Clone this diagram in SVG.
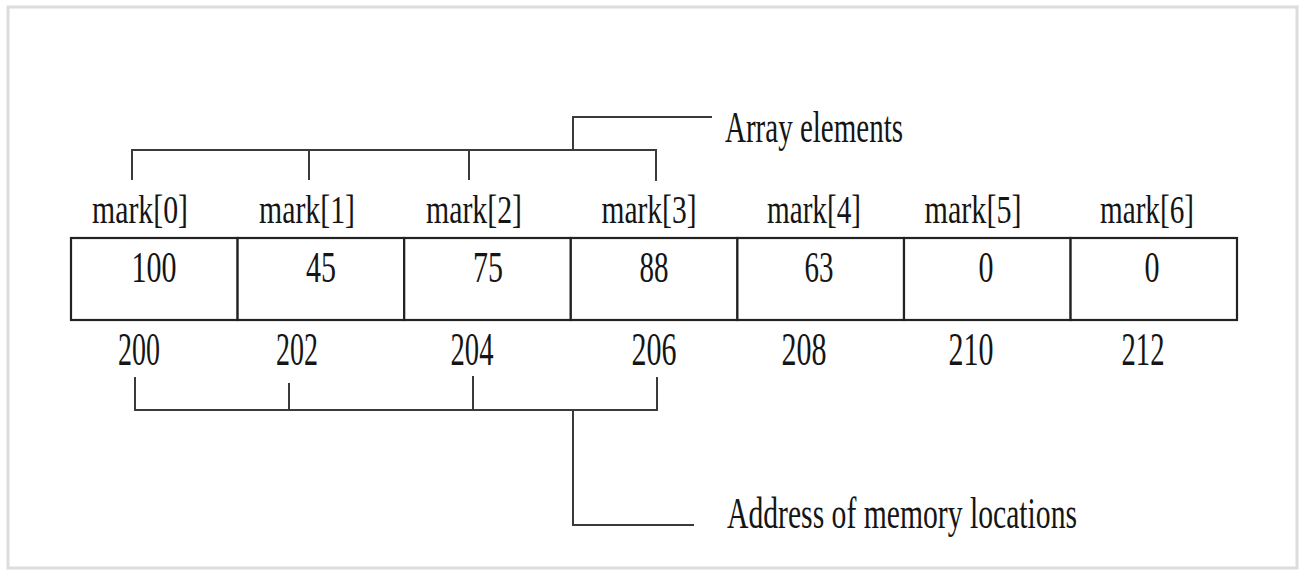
<svg xmlns="http://www.w3.org/2000/svg" width="1300" height="574" viewBox="0 0 1300 574">
  <style>
    .t { font-family: "Liberation Serif", "Times New Roman", serif; fill: #151515; }
    .lbl { font-size: 41px; }
    .val { font-size: 44px; }
    .addr { font-size: 46px; }
    .note { font-size: 44px; }
    .cell { fill: #ffffff; stroke: #222222; stroke-width: 2.2; }
    .conn { fill: none; stroke: #3a3a3a; stroke-width: 2; }
  </style>
  <rect x="0" y="0" width="1300" height="574" fill="#ffffff"/>
  <rect x="8" y="7" width="1289" height="561" fill="#ffffff" stroke="#dcdcdc" stroke-width="3"/>

  <g id="cell0"><rect class="cell" x="71" y="238" width="166.6" height="82"/><text class="t val" x="154" y="282" text-anchor="middle" textLength="45" lengthAdjust="spacingAndGlyphs">100</text><text class="t lbl" x="140" y="223" text-anchor="middle" textLength="96" lengthAdjust="spacingAndGlyphs">mark[0]</text><text class="t addr" x="139" y="365" text-anchor="middle" textLength="42" lengthAdjust="spacingAndGlyphs">200</text></g>
  <g id="cell1"><rect class="cell" x="237.6" y="238" width="166.6" height="82"/><text class="t val" x="321" y="282" text-anchor="middle" textLength="30" lengthAdjust="spacingAndGlyphs">45</text><text class="t lbl" x="307" y="223" text-anchor="middle" textLength="96" lengthAdjust="spacingAndGlyphs">mark[1]</text><text class="t addr" x="297" y="365" text-anchor="middle" textLength="42" lengthAdjust="spacingAndGlyphs">202</text></g>
  <g id="cell2"><rect class="cell" x="404.2" y="238" width="166.6" height="82"/><text class="t val" x="488" y="282" text-anchor="middle" textLength="30" lengthAdjust="spacingAndGlyphs">75</text><text class="t lbl" x="474" y="223" text-anchor="middle" textLength="96" lengthAdjust="spacingAndGlyphs">mark[2]</text><text class="t addr" x="472" y="365" text-anchor="middle" textLength="43" lengthAdjust="spacingAndGlyphs">204</text></g>
  <g id="cell3"><rect class="cell" x="570.8" y="238" width="166.6" height="82"/><text class="t val" x="654" y="282" text-anchor="middle" textLength="29" lengthAdjust="spacingAndGlyphs">88</text><text class="t lbl" x="649" y="223" text-anchor="middle" textLength="95" lengthAdjust="spacingAndGlyphs">mark[3]</text><text class="t addr" x="654" y="365" text-anchor="middle" textLength="45" lengthAdjust="spacingAndGlyphs">206</text></g>
  <g id="cell4"><rect class="cell" x="737.4" y="238" width="166.6" height="82"/><text class="t val" x="819" y="282" text-anchor="middle" textLength="29" lengthAdjust="spacingAndGlyphs">63</text><text class="t lbl" x="814" y="223" text-anchor="middle" textLength="94" lengthAdjust="spacingAndGlyphs">mark[4]</text><text class="t addr" x="804" y="365" text-anchor="middle" textLength="45" lengthAdjust="spacingAndGlyphs">208</text></g>
  <g id="cell5"><rect class="cell" x="904" y="238" width="166.6" height="82"/><text class="t val" x="986" y="282" text-anchor="middle" textLength="15" lengthAdjust="spacingAndGlyphs">0</text><text class="t lbl" x="973" y="223" text-anchor="middle" textLength="97" lengthAdjust="spacingAndGlyphs">mark[5]</text><text class="t addr" x="971" y="365" text-anchor="middle" textLength="45" lengthAdjust="spacingAndGlyphs">210</text></g>
  <g id="cell6"><rect class="cell" x="1070.6" y="238" width="166.4" height="82"/><text class="t val" x="1152" y="282" text-anchor="middle" textLength="15" lengthAdjust="spacingAndGlyphs">0</text><text class="t lbl" x="1147" y="223" text-anchor="middle" textLength="94" lengthAdjust="spacingAndGlyphs">mark[6]</text><text class="t addr" x="1143" y="365" text-anchor="middle" textLength="43" lengthAdjust="spacingAndGlyphs">212</text></g>

  <g id="label-array-elements"><text class="t note" x="725" y="142" textLength="178" lengthAdjust="spacingAndGlyphs">Array elements</text></g>
  <g id="label-addresses"><text class="t note" x="727" y="528" textLength="350" lengthAdjust="spacingAndGlyphs">Address of memory locations</text></g>

  <g id="connectors">
    <path class="conn" d="M132 180 V150 H656 V181"/>
    <path class="conn" d="M309 150 V180 M469 150 V180"/>
    <path class="conn" d="M573 150 V117 H712"/>
    <path class="conn" d="M135 377 V410 H657 V377"/>
    <path class="conn" d="M289 383 V410 M473 376 V410"/>
    <path class="conn" d="M573 410 V525 H694"/>
  </g>
</svg>
